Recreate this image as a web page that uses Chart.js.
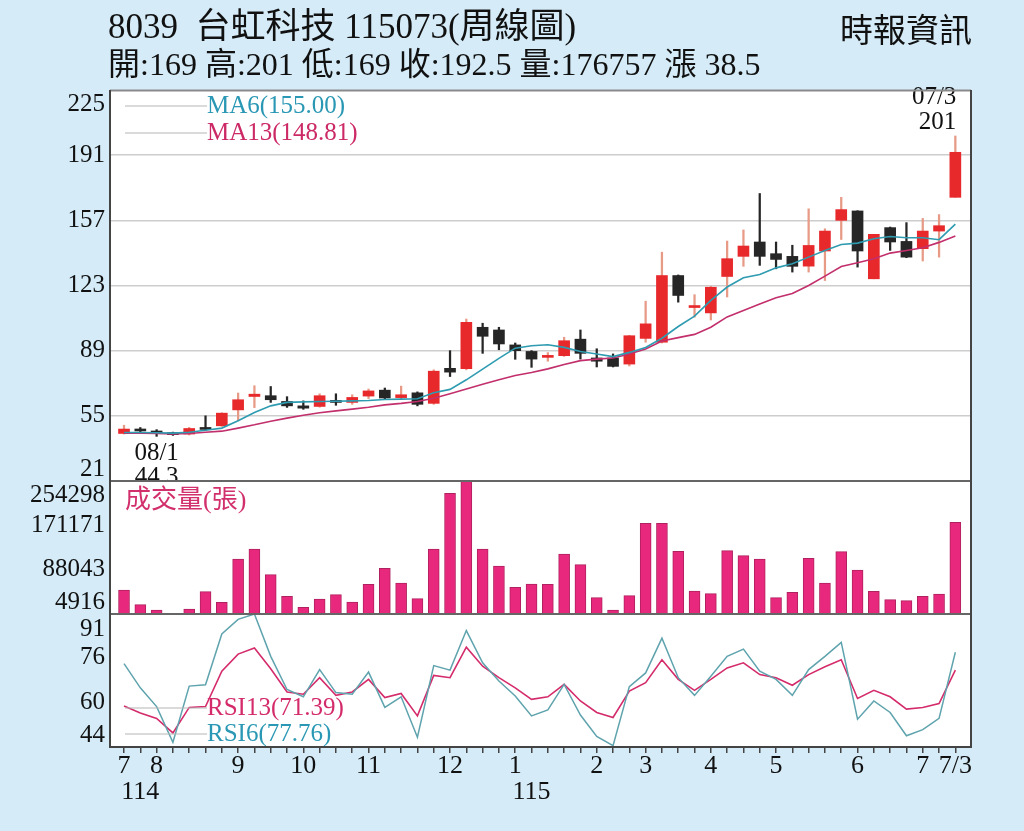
<!DOCTYPE html>
<html>
<head>
<meta charset="utf-8">
<script src="https://cdn.jsdelivr.net/npm/chart.js@4.4.1/dist/chart.umd.min.js"></script>
<style>
  body { margin: 0; background: #d5ecf8; }
  #wrap { position: relative; width: 1024px; height: 831px; overflow: hidden; }
  canvas { position: absolute; left: 0; top: 0; }
  .hd {
    position: absolute;
    font-family: "Liberation Serif", "Noto Sans CJK TC", serif;
    line-height: 1;
    color: #111;
    white-space: pre;
  }
</style>
</head>
<body>
<div id="wrap">
  <canvas id="c" width="1024" height="831"></canvas>
  <div class="hd" style="left:108px;top:9px;font-size:35px">8039  台虹科技 115073(周線圖)</div>
  <div class="hd" style="left:108px;top:48px;font-size:32px">開:169 高:201 低:169 收:192.5 量:176757 漲 38.5</div>
  <div class="hd" style="left:840px;top:15px;font-size:33px">時報資訊</div>
</div>
<script>
// ---- data (weekly candles, 52 weeks) ----
const xLabels = [
  "7", ["", "114"], "8", "", "", "", "", "9", "", "",
  "", "10", "", "", "", "11", "", "", "", "",
  "12", "", "", "", "1", ["", "115"], "", "", "", "2",
  "", "", "3", "", "", "", "4", "", "", "",
  "5", "", "", "", "", "6", "", "", "", "7",
  "", "7/3"
];

const open = [
  45.8, 47.8, 47.1, 46.2, 45.5, 48.4, 49.8, 58.1, 65.1, 65.5,
  62.5, 60.2, 59.9, 62.6, 62.0, 65.3, 68.4, 64.5, 67.0, 61.5,
  79.8, 79.6, 101.2, 99.8, 92.0, 88.6, 85.5, 86.4, 95.0, 85.2,
  85.2, 82.0, 95.4, 93.4, 128.2, 111.5, 108.7, 127.7, 138.2, 145.7,
  139.6, 138.2, 133.1, 141.0, 157.0, 161.9, 126.5, 153.2, 146.0, 142.2,
  151.4, 169
];
const high = [
  50.1, 48.9, 47.8, 46.5, 49.0, 55.0, 56.6, 66.9, 70.7, 70.3,
  65.0, 62.8, 66.5, 66.5, 66.0, 69.0, 69.5, 70.5, 67.5, 79.0,
  89.0, 105.5, 103.3, 101.2, 93.0, 89.0, 88.0, 96.0, 99.8, 90.0,
  87.3, 97.0, 114.8, 140.4, 128.5, 118.2, 122.5, 146.2, 152.0, 171.0,
  145.7, 144.0, 163.0, 152.6, 169.0, 162.0, 149.7, 153.5, 155.8, 158.0,
  160.0, 201
];
const low = [
  45.5, 46.5, 44.3, 44.8, 45.0, 47.5, 49.5, 52.4, 59.3, 62.0,
  59.4, 58.4, 59.5, 60.5, 61.0, 64.0, 63.5, 63.5, 60.2, 61.0,
  75.5, 79.0, 87.6, 89.5, 84.5, 80.3, 83.5, 86.0, 84.6, 80.5,
  80.5, 81.0, 93.4, 93.0, 114.3, 106.5, 105.0, 117.0, 133.0, 133.5,
  131.7, 130.0, 130.0, 125.6, 147.0, 132.6, 126.5, 141.3, 137.5, 135.8,
  137.8, 169
];
const close = [
  48.1, 47.1, 46.0, 45.2, 48.4, 47.9, 56.4, 63.4, 66.3, 63.4,
  60.2, 59.0, 65.5, 62.0, 64.6, 68.0, 64.3, 66.0, 61.0, 78.3,
  77.8, 103.8, 96.5, 92.5, 89.0, 84.6, 86.2, 94.2, 87.6, 83.5,
  80.8, 96.8, 103.0, 128.2, 117.8, 112.3, 122.1, 137.0, 143.6, 138.2,
  136.6, 133.0, 143.9, 151.4, 162.6, 141.0, 149.7, 145.7, 137.8, 151.4,
  154.2, 192.5
];
const volume = [
  50000, 22400, 12400, 4916, 14300, 46800, 26800, 108000, 126800, 78700,
  38000, 17400, 33000, 41200, 27400, 60500, 90500, 63000, 33700, 126800,
  231200, 254298, 126800, 94900, 54900, 61200, 60500, 117400, 97400, 35500,
  12400, 39300, 174900, 174900, 122400, 48000, 43000, 123700, 114300, 108000,
  35500, 45500, 109300, 63000, 121800, 87400, 47400, 31800, 29900, 38000,
  42400, 176757
];
const ma6 = [
  46.3, 46.3, 46.2, 46.0, 46.4, 47.5, 48.6, 52.4, 56.7, 60.2,
  62.0, 62.3, 62.5, 62.6, 62.8, 63.0, 63.5, 63.7, 63.9, 67.0,
  68.8, 73.8, 79.4, 85.0, 90.3, 91.6, 92.1, 90.7, 88.6, 87.3,
  85.9, 88.1, 90.7, 95.5, 101.6, 107.0, 115.2, 122.2, 127.0, 128.7,
  132.2, 134.3, 137.8, 141.3, 144.4, 145.1, 147.4, 148.6, 147.9, 147.9,
  146.9, 155.00
];
const ma13 = [
  46.0, 45.9, 45.8, 45.6, 45.8, 46.4, 47.0, 48.6, 50.3, 52.2,
  53.8, 55.3, 56.6, 57.6, 58.5, 59.5, 60.7, 61.5, 62.5, 64.2,
  66.5, 69.0, 71.5, 73.8, 76.0, 77.6, 79.5, 81.8, 83.8, 84.6,
  85.2, 87.3, 89.9, 94.0, 95.8, 97.5, 101.2, 106.6, 110.0, 113.4,
  116.6, 118.8, 123.0, 127.9, 132.9, 134.9, 137.0, 139.9, 141.3, 142.7,
  145.5, 148.81
];
const rsi6 = [
  73.7, 65.1, 58.4, 45.7, 65.7, 66.2, 84.3, 89.5, 91.4, 76.3,
  64.5, 61.9, 71.6, 63.4, 62.8, 70.7, 58.1, 61.9, 47.5, 73.0,
  71.4, 85.5, 74.0, 67.5, 62.2, 55.1, 57.2, 66.3, 55.4, 47.8,
  44.5, 65.5, 70.4, 82.8, 68.7, 62.4, 69.2, 76.3, 78.9, 71.0,
  68.1, 62.4, 71.6, 76.3, 81.3, 53.9, 60.4, 56.3, 48.0, 50.2,
  54.2, 77.76
];
const rsi13 = [
  58.6, 56.1, 54.2, 49.0, 58.1, 58.4, 71.0, 77.1, 79.3, 71.9,
  63.6, 62.8, 68.7, 62.4, 63.6, 68.1, 61.6, 63.1, 55.1, 69.5,
  68.7, 79.6, 72.8, 68.7, 65.1, 61.0, 61.9, 66.3, 60.4, 56.3,
  54.5, 63.9, 66.9, 75.1, 68.1, 64.2, 68.1, 72.2, 74.0, 69.8,
  68.7, 66.0, 69.8, 72.6, 75.1, 61.3, 64.2, 61.9, 57.5, 58.1,
  59.5, 71.39
];
const priceTicks = [21, 55, 89, 123, 157, 191, 225];
const volTicks = [4916, 88043, 171171, 254298];
const rsiTicks = [44, 60, 76, 91];

// ---- styles ----
const RED = "#e8292c";
const RED_WICK = "#e79a86";
const BLACK = "#262626";
const TEAL = "#2e9bb0";
const CRIMSON = "#c22f6c";
const RSI_TEAL = "#5ea3ad";
const RSI_RED = "#d42c6b";
const SERIF = '"Liberation Serif", "Noto Sans CJK TC", serif';

const up = (i) => close[i] >= open[i];
const pts = (arr) => arr.map((v, i) => ({ x: i, y: v }));

// white plot area, frame, panel texts
const panelPlugin = {
  id: "panels",
  beforeDraw(chart) {
    const { ctx, chartArea: a } = chart;
    ctx.save();
    ctx.fillStyle = "#fff";
    ctx.fillRect(a.left, a.top, a.right - a.left, a.bottom - a.top);
    ctx.restore();
  },
  afterDraw(chart) {
    const { ctx, chartArea: a, scales } = chart;
    const yp = scales.y, yv = scales.yv, yr = scales.yr, x = scales.x;
    ctx.save();

    // y labels, first and last pulled inside the panel
    ctx.font = "25px " + SERIF;
    ctx.fillStyle = "#111";
    ctx.textAlign = "right";
    ctx.textBaseline = "middle";
    [yp, yv, yr].forEach((s) => {
      const n = s.ticks.length;
      s.ticks.forEach((t, k) => {
        let py = s.getPixelForValue(t.value);
        if (k === 0) py -= 12;
        else if (k === n - 1) py += 14;
        ctx.fillText(String(t.value), a.left - 5, py);
      });
    });

    // legends
    const legend = (txt, color, ly) => {
      ctx.strokeStyle = "#b5b5b5";
      ctx.lineWidth = 1.2;
      ctx.beginPath();
      ctx.moveTo(a.left + 15, ly);
      ctx.lineTo(a.left + 97, ly);
      ctx.stroke();
      ctx.fillStyle = color;
      ctx.textAlign = "left";
      ctx.fillText(txt, a.left + 97, ly);
    };
    ctx.font = "25px " + SERIF;
    legend("MA6(" + ma6[ma6.length - 1].toFixed(2) + ")", "#2a98b4", yp.top + 16);
    legend("MA13(" + ma13[ma13.length - 1].toFixed(2) + ")", "#cc2a66", yp.top + 43);
    legend("RSI13(" + rsi13[rsi13.length - 1].toFixed(2) + ")", RSI_RED, yr.top + 94);
    legend("RSI6(" + rsi6[rsi6.length - 1].toFixed(2) + ")", "#2a98b4", yr.top + 120);

    ctx.font = "26px " + SERIF;
    ctx.fillStyle = "#d2306c";
    ctx.textAlign = "left";
    ctx.fillText("成交量(張)", a.left + 15, yv.top + 20);

    // low / high notes
    ctx.save();
    ctx.beginPath();
    ctx.rect(a.left, yp.top - 20, a.right - a.left, yp.bottom - yp.top + 20);
    ctx.clip();
    ctx.font = "25px " + SERIF;
    ctx.fillStyle = "#111";
    ctx.textAlign = "center";
    const lowIdx = low.indexOf(Math.min(...low));
    const lx = x.getPixelForValue(lowIdx);
    const ly = yp.getPixelForValue(low[lowIdx]);
    ctx.fillText("08/1", lx, ly + 17);
    ctx.fillText(low[lowIdx].toFixed(1), lx, ly + 41);
    ctx.restore();

    const last = close.length - 1;
    const hx = x.getPixelForValue(last);
    const hy = yp.getPixelForValue(high[last]);
    ctx.font = "25px " + SERIF;
    ctx.fillStyle = "#111";
    ctx.textAlign = "right";
    ctx.fillText("07/3", hx + 1, hy - 39);
    ctx.fillText(String(high[last]), hx + 1, hy - 14);

    // frame and separators
    ctx.lineWidth = 2;
    ctx.strokeStyle = "#8a8a8a";
    ctx.beginPath();
    ctx.moveTo(a.left, a.top + 0.5);
    ctx.lineTo(a.right, a.top + 0.5);
    ctx.stroke();
    ctx.strokeStyle = "#666";
    [yv.top, yr.top].forEach((yy) => {
      ctx.beginPath();
      ctx.moveTo(a.left, yy);
      ctx.lineTo(a.right, yy);
      ctx.stroke();
    });
    ctx.strokeStyle = "#444";
    ctx.beginPath();
    ctx.moveTo(a.left, a.top);
    ctx.lineTo(a.left, a.bottom);
    ctx.lineTo(a.right, a.bottom);
    ctx.lineTo(a.right, a.top);
    ctx.stroke();
    ctx.restore();
  },
};

const idx = close.map((_, i) => i);

new Chart(document.getElementById("c"), {
  data: {
    datasets: [
      {
        type: "line", label: "MA6", order: 0, yAxisID: "y",
        data: pts(ma6), borderColor: TEAL, borderWidth: 1.6, pointRadius: 0,
      },
      {
        type: "line", label: "MA13", order: 0, yAxisID: "y",
        data: pts(ma13), borderColor: CRIMSON, borderWidth: 1.6, pointRadius: 0,
      },
      {
        type: "bar", label: "body", order: 1, yAxisID: "y", grouped: false,
        data: idx.map((i) => ({ x: i, y: [open[i], close[i]] })),
        backgroundColor: (c) => (up(c.dataIndex) ? RED : BLACK),
        barThickness: 11, minBarLength: 2,
      },
      {
        type: "bar", label: "wick", order: 2, yAxisID: "y", grouped: false,
        data: idx.map((i) => ({ x: i, y: [low[i], high[i]] })),
        backgroundColor: (c) => (up(c.dataIndex) ? RED_WICK : BLACK),
        barThickness: 1.6,
      },
      {
        type: "bar", label: "vol", order: 1, yAxisID: "yv", grouped: false,
        data: pts(volume), backgroundColor: "#e8287c",
        borderColor: "#b0215f", borderWidth: 1, barThickness: 11,
      },
      {
        type: "line", label: "RSI6", order: 0, yAxisID: "yr",
        data: pts(rsi6), borderColor: RSI_TEAL, borderWidth: 1.5, pointRadius: 0,
      },
      {
        type: "line", label: "RSI13", order: 0, yAxisID: "yr",
        data: pts(rsi13), borderColor: RSI_RED, borderWidth: 1.6, pointRadius: 0,
      },
    ],
  },
  options: {
    responsive: false,
    animation: false,
    events: [],
    layout: { padding: { left: 0, top: 90, right: 53, bottom: 0 } },
    plugins: { legend: { display: false }, tooltip: { enabled: false } },
    scales: {
      x: {
        type: "linear", min: -0.86, max: 51.96, offset: false,
        afterBuildTicks: (s) => { s.ticks = xLabels.map((_, i) => ({ value: i })); },
        afterFit: (s) => { s.height = 84; },
        ticks: {
          autoSkip: false, maxRotation: 0, padding: 0, color: "#111",
          font: { family: SERIF, size: 26, lineHeight: 1 },
          callback: (v) => xLabels[v],
        },
        grid: { offset: false, drawOnChartArea: false, tickLength: 6, color: "#444", lineWidth: 1.5 },
        border: { display: false },
      },
      yr: {
        type: "linear", position: "left", stack: "main", stackWeight: 133, weight: 1,
        min: 44, max: 91.4,
        afterBuildTicks: (s) => { s.ticks = rsiTicks.map((v) => ({ value: v })); },
        afterFit: (s) => { s.width = 110; },
        ticks: { display: false },
        grid: { display: false },
        border: { display: false },
      },
      yv: {
        type: "linear", position: "left", stack: "main", stackWeight: 133, weight: 2,
        min: 4916, max: 254298,
        afterBuildTicks: (s) => { s.ticks = volTicks.map((v) => ({ value: v })); },
        afterFit: (s) => { s.width = 110; },
        ticks: { display: false },
        grid: { display: false },
        border: { display: false },
      },
      y: {
        type: "linear", position: "left", stack: "main", stackWeight: 391, weight: 3,
        min: 21, max: 225,
        afterBuildTicks: (s) => { s.ticks = priceTicks.map((v) => ({ value: v })); },
        afterFit: (s) => { s.width = 110; },
        ticks: { display: false },
        grid: {
          drawTicks: false, lineWidth: 1.5,
          color: (c) => (c.tick && (c.tick.value === 21 || c.tick.value === 225) ? "rgba(0,0,0,0)" : "#cdcdcd"),
        },
        border: { display: false },
      },
    },
  },
  plugins: [panelPlugin],
});
</script>
</body>
</html>
